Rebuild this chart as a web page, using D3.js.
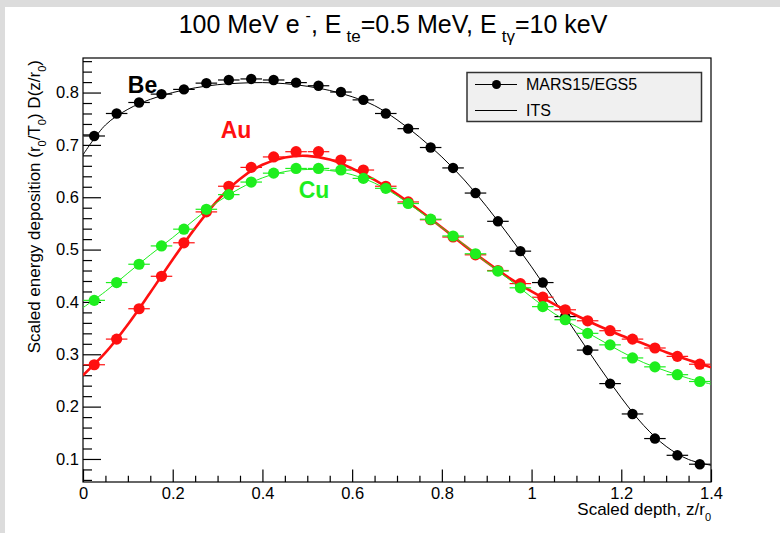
<!DOCTYPE html>
<html>
<head>
<meta charset="utf-8">
<script src="https://cdn.jsdelivr.net/npm/d3@7"></script>
<style>
  html, body { margin: 0; padding: 0; background: #ffffff; overflow: hidden; }
  svg { display: block; }
  text { font-family: "Liberation Sans", Arial, Helvetica, sans-serif; }
</style>
</head>
<body>
<svg id="chart" width="780" height="533"></svg>
<script>
// ---- data ----
const zBins = [0.025,0.075,0.125,0.175,0.225,0.275,0.325,0.375,0.425,0.475,0.525,0.575,0.625,0.675,0.725,0.775,0.825,0.875,0.925,0.975,1.025,1.075,1.125,1.175,1.225,1.275,1.325,1.375];
const zHalfWidth = 0.024;
const beMars = [0.717,0.760,0.781,0.797,0.806,0.818,0.824,0.826,0.824,0.819,0.813,0.801,0.786,0.760,0.731,0.695,0.656,0.608,0.554,0.497,0.437,0.372,0.308,0.244,0.186,0.139,0.107,0.090];
const auMars = [0.280,0.329,0.387,0.449,0.513,0.572,0.621,0.657,0.677,0.687,0.687,0.671,0.652,0.621,0.591,0.557,0.524,0.490,0.460,0.435,0.409,0.385,0.364,0.345,0.329,0.312,0.296,0.281];
const cuMars = [0.403,0.437,0.472,0.507,0.539,0.577,0.605,0.629,0.646,0.655,0.655,0.652,0.636,0.617,0.588,0.558,0.526,0.492,0.459,0.427,0.391,0.366,0.340,0.318,0.293,0.276,0.261,0.248];

const zIts = [0,0.05,0.1,0.15,0.2,0.25,0.3,0.35,0.4,0.45,0.5,0.55,0.6,0.65,0.7,0.75,0.8,0.85,0.9,0.95,1.0,1.05,1.1,1.15,1.2,1.25,1.3,1.35,1.4];
const beIts = [0.681,0.738,0.768,0.787,0.800,0.809,0.815,0.818,0.819,0.817,0.812,0.804,0.792,0.775,0.748,0.715,0.677,0.633,0.582,0.526,0.467,0.404,0.340,0.277,0.217,0.164,0.124,0.099,0.088];
const auIts = [0.260,0.303,0.357,0.418,0.481,0.541,0.594,0.635,0.662,0.676,0.679,0.672,0.655,0.633,0.606,0.575,0.542,0.508,0.476,0.446,0.420,0.396,0.374,0.354,0.336,0.320,0.304,0.289,0.275];
const cuIts = [0.389,0.420,0.455,0.490,0.523,0.558,0.591,0.617,0.637,0.649,0.653,0.651,0.643,0.627,0.603,0.573,0.542,0.509,0.475,0.443,0.409,0.378,0.353,0.329,0.305,0.284,0.268,0.254,0.243];

const xTicks = [0, 0.2, 0.4, 0.6, 0.8, 1.0, 1.2, 1.4];
const xTickLabels = ["0","0.2","0.4","0.6","0.8","1","1.2","1.4"];
const yTicks = [0.1, 0.2, 0.3, 0.4, 0.5, 0.6, 0.7, 0.8];
const yTickLabels = ["0.1","0.2","0.3","0.4","0.5","0.6","0.7","0.8"];
const xDomain = [0, 1.4];
const yDomain = [0.056, 0.866];

const materials = ["Be", "Au", "Cu"];
const legendLabels = ["MARS15/EGS5", "ITS"];

// ---- layout ----
const svg = d3.select("#chart");
const W = 780, H = 533;
const frame = {left: 83, right: 711, top: 58, bottom: 482};
const font = '"Liberation Sans", Arial, Helvetica, sans-serif';

// textured border strips (left and top) as in the reference
svg.append("rect").attr("x", 0).attr("y", 0).attr("width", W).attr("height", H).attr("fill", "#ffffff");
svg.append("rect").attr("x", 0).attr("y", 0).attr("width", 5).attr("height", H).attr("fill", "#dcdcdc");
svg.append("rect").attr("x", 0).attr("y", 0).attr("width", W).attr("height", 7).attr("fill", "#dcdcdc");

const x = d3.scaleLinear().domain(xDomain).range([frame.left, frame.right]);
const y = d3.scaleLinear().domain(yDomain).range([frame.bottom, frame.top]);

// frame
svg.append("rect")
  .attr("x", frame.left).attr("y", frame.top)
  .attr("width", frame.right - frame.left).attr("height", frame.bottom - frame.top)
  .attr("fill", "#ffffff").attr("stroke", "#000").attr("stroke-width", 1.2);

// axes (ticks inside the frame)
const xMinor = d3.range(0, 1.4001, 0.05).filter(v => !xTicks.some(t => Math.abs(t - v) < 1e-6));
const yMinor = d3.range(0.06, 0.8661, 0.02).filter(v => !yTicks.some(t => Math.abs(t - v) < 1e-6));

const xAxis = d3.axisBottom(x).tickValues(xTicks).tickSize(-12.6).tickPadding(5)
  .tickFormat((d, i) => xTickLabels[i]);
const gx = svg.append("g").attr("transform", `translate(0,${frame.bottom})`).call(xAxis);
gx.select(".domain").remove();
gx.selectAll("line").attr("stroke", "#000").attr("stroke-width", 1.2);
gx.selectAll("text").attr("font-size", 16.5).attr("font-family", font).attr("fill", "#000");

const xAxisMinor = d3.axisBottom(x).tickValues(xMinor).tickSize(-6.3).tickFormat("");
const gxm = svg.append("g").attr("transform", `translate(0,${frame.bottom})`).call(xAxisMinor);
gxm.select(".domain").remove();
gxm.selectAll("line").attr("stroke", "#000").attr("stroke-width", 1.2);

const yAxis = d3.axisLeft(y).tickValues(yTicks).tickSize(-18).tickPadding(4)
  .tickFormat((d, i) => yTickLabels[i]);
const gy = svg.append("g").attr("transform", `translate(${frame.left},0)`).call(yAxis);
gy.select(".domain").remove();
gy.selectAll("line").attr("stroke", "#000").attr("stroke-width", 1.2);
gy.selectAll("text").attr("font-size", 16.5).attr("font-family", font).attr("fill", "#000").attr("x", -4);

const yAxisMinor = d3.axisLeft(y).tickValues(yMinor).tickSize(-9).tickFormat("");
const gym = svg.append("g").attr("transform", `translate(${frame.left},0)`).call(yAxisMinor);
gym.select(".domain").remove();
gym.selectAll("line").attr("stroke", "#000").attr("stroke-width", 1.2);

// ---- series ----
const seriesDefs = [
  {name: "Be", mars: beMars, its: beIts, color: "#000000", lw: 1.0, r: 5.2},
  {name: "Cu", mars: cuMars, its: cuIts, color: "#1eee1e", lw: 1.0, r: 5.6},
  {name: "Au", mars: auMars, its: auIts, color: "#ff1010", lw: 2.6, r: 5.6}
];

svg.append("clipPath").attr("id", "plotclip").append("rect")
  .attr("x", frame.left).attr("y", frame.top)
  .attr("width", frame.right - frame.left).attr("height", frame.bottom - frame.top);

const plot = svg.append("g").attr("clip-path", "url(#plotclip)");
const line = d3.line().x(d => x(d[0])).y(d => y(d[1])).curve(d3.curveCatmullRom.alpha(0.5));

const drawOrder = [seriesDefs[0], seriesDefs[2], seriesDefs[1]];
drawOrder.forEach(s => {
  const g = plot.append("g");
  g.append("path")
    .datum(zIts.map((z, i) => [z, s.its[i]]))
    .attr("d", line).attr("fill", "none")
    .attr("stroke", s.color).attr("stroke-width", s.lw);
  const pts = zBins.map((z, i) => ({z, v: s.mars[i]}));
  g.selectAll("line.err").data(pts).join("line").attr("class", "err")
    .attr("x1", d => x(d.z - zHalfWidth)).attr("x2", d => x(d.z + zHalfWidth))
    .attr("y1", d => y(d.v)).attr("y2", d => y(d.v))
    .attr("stroke", s.color).attr("stroke-width", 1.2);
  g.selectAll("circle").data(pts).join("circle")
    .attr("cx", d => x(d.z)).attr("cy", d => y(d.v)).attr("r", s.r)
    .attr("fill", s.color);
});

// ---- material labels ----
const labelPos = {Be: [0.100, 0.800], Au: [0.307, 0.713], Cu: [0.481, 0.599]};
const labelColor = {Be: "#000000", Au: "#ff1010", Cu: "#1eee1e"};
materials.forEach(m => {
  svg.append("text")
    .attr("x", x(labelPos[m][0])).attr("y", y(labelPos[m][1]))
    .attr("font-size", 23).attr("font-weight", "bold")
    .attr("fill", labelColor[m]).text(m);
});

// ---- legend ----
const lg = svg.append("g");
lg.append("rect").attr("x", 467).attr("y", 72.5).attr("width", 234.5).attr("height", 49)
  .attr("fill", "#f0f0f0").attr("stroke", "#333").attr("stroke-width", 1.5);
const legY = [84.5, 110.5];
legendLabels.forEach((lab, i) => {
  lg.append("line").attr("x1", 475).attr("x2", 517).attr("y1", legY[i]).attr("y2", legY[i])
    .attr("stroke", "#000").attr("stroke-width", 1.2);
  if (i === 0) lg.append("circle").attr("cx", 496.5).attr("cy", legY[i]).attr("r", 4.5).attr("fill", "#000");
  lg.append("text").attr("x", 526).attr("y", legY[i]).attr("dy", "0.36em")
    .attr("font-size", 16).attr("fill", "#000").text(lab);
});

// ---- title ----
const title = svg.append("text").attr("x", 393).attr("y", 33)
  .attr("text-anchor", "middle").attr("font-size", 25).attr("fill", "#000");
title.append("tspan").text("100 MeV e");
title.append("tspan").attr("dx", 6).attr("dy", -12).attr("font-size", 16).text("-");
title.append("tspan").attr("dy", 12).text(", E");
title.append("tspan").attr("dx", 5).attr("dy", 9).attr("font-size", 17).text("te");
title.append("tspan").attr("dy", -9).text("=0.5 MeV, E");
title.append("tspan").attr("dx", 5).attr("dy", 9).attr("font-size", 17).text("tγ");
title.append("tspan").attr("dy", -9).text("=10 keV");

// ---- axis titles ----
const xt = svg.append("text").attr("x", frame.right).attr("y", 515)
  .attr("text-anchor", "end").attr("font-size", 17).attr("fill", "#000");
xt.append("tspan").text("Scaled depth, z/r");
xt.append("tspan").attr("dy", 6).attr("font-size", 11).text("0");

const yt = svg.append("text")
  .attr("transform", `translate(40,${frame.top + 2}) rotate(-90)`)
  .attr("text-anchor", "end").attr("font-size", 17).attr("fill", "#000");
yt.append("tspan").text("Scaled energy deposition (r");
yt.append("tspan").attr("dy", 6).attr("font-size", 11).text("0");
yt.append("tspan").attr("dy", -6).text("/T");
yt.append("tspan").attr("dy", 6).attr("font-size", 11).text("0");
yt.append("tspan").attr("dy", -6).text(") D(z/r");
yt.append("tspan").attr("dy", 6).attr("font-size", 11).text("0");
yt.append("tspan").attr("dy", -6).text(")");
</script>
</body>
</html>
